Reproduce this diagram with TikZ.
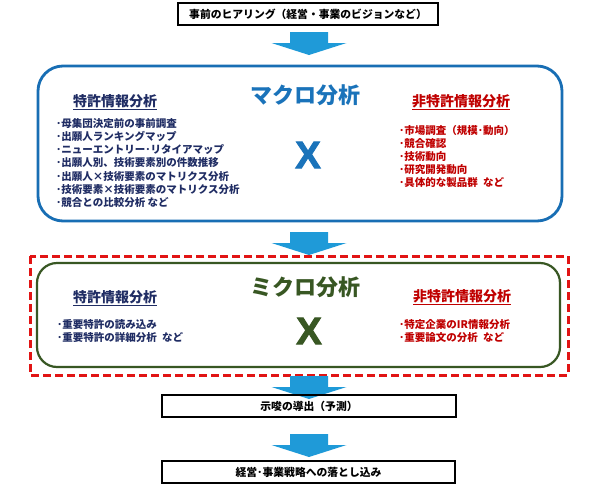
\documentclass[tikz,border=0pt]{standalone}
\usepackage{fontspec}
\setmainfont{Noto Sans CJK JP}
\newfontfamily\xfont{Liberation Sans}[FakeBold=2.5]
\definecolor{macroblue}{RGB}{24,110,180}
\definecolor{titleblue}{RGB}{26,115,186}
\definecolor{arrowblue}{RGB}{31,154,216}
\definecolor{microgreen}{RGB}{56,87,35}
\definecolor{dashred}{RGB}{225,20,20}
\definecolor{navy}{RGB}{32,45,100}
\definecolor{darkred}{RGB}{192,0,0}
\begin{document}
\begin{tikzpicture}[x=1pt,y=-1pt,
  plainbox/.style={draw=black,line width=2pt,inner sep=0pt,minimum height=22pt,font=\bfseries\fontsize{10.8}{12}\selectfont},
  bigtitle/.style={font=\bfseries\fontsize{22}{22}\selectfont,inner sep=0pt},
  header/.style={font=\bfseries\fontsize{14}{14}\selectfont,inner sep=0pt},
  litem/.style={font=\bfseries\fontsize{10.5}{12}\selectfont,inner sep=0pt,anchor=base west},
  bigx/.style={font=\xfont\bfseries\fontsize{38}{38}\selectfont,inner sep=0pt},
  downarrow/.pic={\fill[arrowblue] (-19,0) -- (19,0) -- (19,11) -- (37.5,11) -- (0,23) -- (-37.5,11) -- (-19,11) -- cycle;}
]
\useasboundingbox (0,0) rectangle (597,493);
\fill[white] (0,0) rectangle (597,493);

% top box
\node[plainbox,minimum width=260pt] (hear) at (308,14) {事前のヒアリング（経営・事業のビジョンなど）};
\pic at (309,32) {downarrow};

% macro box
\node[draw=macroblue,line width=2.8pt,rounded corners=25pt,minimum width=524pt,minimum height=155pt,inner sep=0pt] (macro) at (300,143.5) {};
\node[bigtitle,text=titleblue] (macrot) at (305,95) {マクロ分析};
\node[header,text=navy] (mph) at (115,102) {\underline{特許情報分析}};
\node[header,text=darkred] (mnh) at (461,102) {\underline{非特許情報分析}};
\foreach \t [count=\i] in {･母集団決定前の事前調査,･出願人ランキングマップ,･ニューエントリー･リタイアマップ,･出願人別、技術要素別の件数推移,･出願人×技術要素のマトリクス分析,･技術要素×技術要素のマトリクス分析,･競合との比較分析 など}
  \node[litem,text=navy] (mp\i) at (56,{127+13.3*(\i-1)}) {\t};
\foreach \t [count=\i] in {･市場調査（規模･動向）,･競合確認,･技術動向,･研究開発動向,･具体的な製品群\enspace など}
  \node[litem,text=darkred] (mn\i) at (399,{134+13*(\i-1)}) {\t};
\node[bigx,text=titleblue] (macrox) at (308,155) {X};

\pic at (309,232) {downarrow};

% micro section
\draw[dashred,line width=3pt,dash pattern=on 8pt off 4pt] (30,256) rectangle (568,375);
\node[draw=microgreen,line width=2.2pt,rounded corners=20pt,minimum width=523pt,minimum height=104pt,inner sep=0pt] (micro) at (298.5,315) {};
\node[bigtitle,text=microgreen] (microt) at (305,287) {ミクロ分析};
\node[header,text=navy] (iph) at (115,298) {\underline{特許情報分析}};
\node[header,text=darkred] (inh) at (462,297) {\underline{非特許情報分析}};
\node[litem,text=navy] (ip1) at (57,328) {･重要特許の読み込み};
\node[litem,text=navy] (ip2) at (57,341) {･重要特許の詳細分析\enspace など};
\node[litem,text=darkred] (in1) at (399,328) {･特定企業のIR情報分析};
\node[litem,text=darkred] (in2) at (399,341) {･重要論文の分析\enspace など};
\node[bigx,text=microgreen] (microx) at (309,331) {X};

\pic at (309,376) {downarrow};
\node[plainbox,minimum width=294pt] (pred) at (309,406) {示唆の導出（予測）};
\pic at (309,434) {downarrow};
\node[plainbox,minimum width=293pt] (strat) at (308.5,472) {経営･事業戦略への落とし込み};
\end{tikzpicture}
\end{document}
